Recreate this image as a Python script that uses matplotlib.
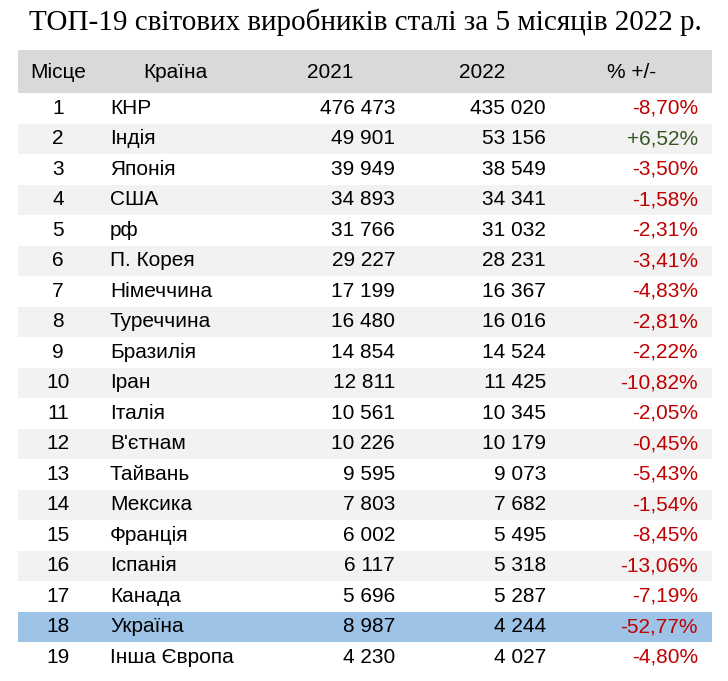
import matplotlib.pyplot as plt
from matplotlib.patches import Rectangle

title = "ТОП-19 світових виробників сталі за 5 місяців 2022 р."
headers = ["Місце", "Країна", "2021", "2022", "% +/-"]
places = list(range(1, 20))
countries = ["КНР", "Індія", "Японія", "США", "рф", "П. Корея", "Німеччина", "Туреччина",
             "Бразилія", "Іран", "Італія", "В'єтнам", "Тайвань", "Мексика", "Франція",
             "Іспанія", "Канада", "Україна", "Інша Європа"]
v2021 = ["476 473", "49 901", "39 949", "34 893", "31 766", "29 227", "17 199", "16 480",
         "14 854", "12 811", "10 561", "10 226", "9 595", "7 803", "6 002", "6 117",
         "5 696", "8 987", "4 230"]
v2022 = ["435 020", "53 156", "38 549", "34 341", "31 032", "28 231", "16 367", "16 016",
         "14 524", "11 425", "10 345", "10 179", "9 073", "7 682", "5 495", "5 318",
         "5 287", "4 244", "4 027"]
change = ["-8,70%", "+6,52%", "-3,50%", "-1,58%", "-2,31%", "-3,41%", "-4,83%", "-2,81%",
          "-2,22%", "-10,82%", "-2,05%", "-0,45%", "-5,43%", "-1,54%", "-8,45%", "-13,06%",
          "-7,19%", "-52,77%", "-4,80%"]
highlight = "Україна"

W, H = 728, 681
fig = plt.figure(figsize=(W / 100, H / 100), dpi=100)
ax = fig.add_axes([0, 0, 1, 1])
ax.set_xlim(0, W)
ax.set_ylim(H, 0)
ax.axis("off")

ax.text(W / 2 + 1, 22, title, ha="center", va="center", fontsize=21,
        family="Liberation Serif")

left, right = 18, 712
fs = 15
font = "Liberation Sans"
kw = dict(va="center", fontsize=fs, family=font, fontstretch="condensed")
# header
ax.add_patch(Rectangle((left, 50), right - left, 43, color="#d9d9d9", lw=0))
hy = 72
ax.text(58, hy, headers[0], ha="center", **kw)
ax.text(175, hy, headers[1], ha="center", **kw)
ax.text(330, hy, headers[2], ha="center", **kw)
ax.text(482, hy, headers[3], ha="center", **kw)
ax.text(632, hy, headers[4], ha="center", **kw)

top, pitch = 93, 30.5
for i, (p, c, a, b, d) in enumerate(zip(places, countries, v2021, v2022, change)):
    y0 = top + i * pitch
    yc = y0 + pitch / 2
    if c == highlight:
        bg = "#9dc3e6"
    elif i % 2 == 1:
        bg = "#f2f2f2"
    else:
        bg = "white"
    ax.add_patch(Rectangle((left, y0), right - left, pitch, color=bg, lw=0))
    ax.text(58, yc, str(p), ha="center", **kw)
    ax.text(110, yc, c, ha="left", **kw)
    ax.text(395, yc, a, ha="right", **kw)
    ax.text(546, yc, b, ha="right", **kw)
    col = "#375623" if d.startswith("+") else "#c00000"
    ax.text(698, yc, d, ha="right", color=col, **kw)

fig.savefig("out.png", dpi=100)
